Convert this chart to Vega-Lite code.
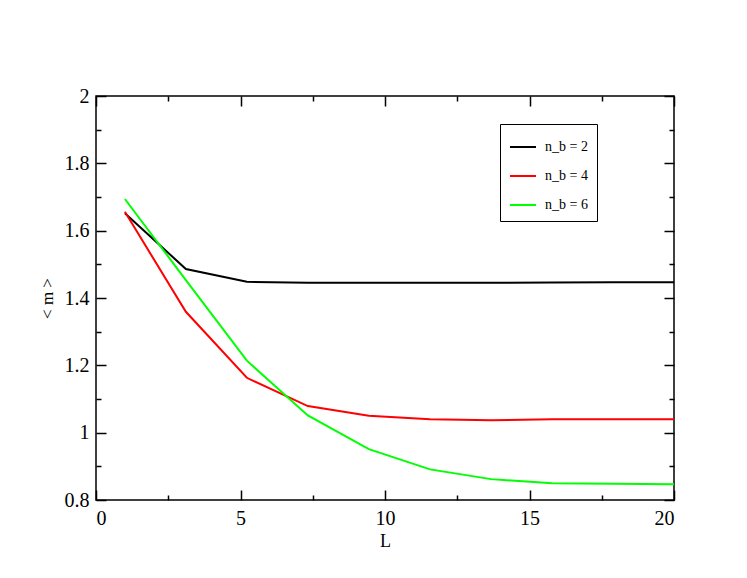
{
  "$schema": "https://vega.github.io/schema/vega-lite/v6.json",
  "width": 578,
  "height": 404,
  "autosize": {"type": "none"},
  "padding": {"left": 96, "top": 96, "right": 73, "bottom": 78},
  "background": "white",
  "config": {
    "view": {"stroke": "black", "strokeWidth": 1.5},
    "axis": {"grid": false, "domain": false, "tickColor": "black", "tickWidth": 1.5, "labelFont": "Liberation Serif", "labelFontSize": 20, "labelColor": "black", "titleFont": "Liberation Serif", "titleColor": "black", "titleFontWeight": "normal"},
    "legend": {"labelFont": "Liberation Serif", "labelFontSize": 14, "labelColor": "black"}
  },
  "data": {
    "values": [
      {"series": "n_b = 2", "x": 1, "y": 1.652},
      {"series": "n_b = 2", "x": 3.11, "y": 1.486},
      {"series": "n_b = 2", "x": 5.22, "y": 1.448},
      {"series": "n_b = 2", "x": 7.33, "y": 1.445},
      {"series": "n_b = 2", "x": 9.44, "y": 1.445},
      {"series": "n_b = 2", "x": 11.56, "y": 1.445},
      {"series": "n_b = 2", "x": 13.67, "y": 1.445},
      {"series": "n_b = 2", "x": 15.78, "y": 1.446},
      {"series": "n_b = 2", "x": 17.89, "y": 1.447},
      {"series": "n_b = 2", "x": 20, "y": 1.447},
      {"series": "n_b = 4", "x": 1, "y": 1.656},
      {"series": "n_b = 4", "x": 3.11, "y": 1.359},
      {"series": "n_b = 4", "x": 5.22, "y": 1.163},
      {"series": "n_b = 4", "x": 7.33, "y": 1.079},
      {"series": "n_b = 4", "x": 9.44, "y": 1.05},
      {"series": "n_b = 4", "x": 11.56, "y": 1.04},
      {"series": "n_b = 4", "x": 13.67, "y": 1.037},
      {"series": "n_b = 4", "x": 15.78, "y": 1.04},
      {"series": "n_b = 4", "x": 17.89, "y": 1.04},
      {"series": "n_b = 4", "x": 20, "y": 1.04},
      {"series": "n_b = 6", "x": 1, "y": 1.694},
      {"series": "n_b = 6", "x": 3.11, "y": 1.453},
      {"series": "n_b = 6", "x": 5.22, "y": 1.214},
      {"series": "n_b = 6", "x": 7.33, "y": 1.051},
      {"series": "n_b = 6", "x": 9.44, "y": 0.951},
      {"series": "n_b = 6", "x": 11.56, "y": 0.891},
      {"series": "n_b = 6", "x": 13.67, "y": 0.862},
      {"series": "n_b = 6", "x": 15.78, "y": 0.85},
      {"series": "n_b = 6", "x": 17.89, "y": 0.848},
      {"series": "n_b = 6", "x": 20, "y": 0.847}
    ]
  },
  "layer": [
    {
      "mark": {"type": "line", "strokeWidth": 2},
      "encoding": {
        "x": {"field": "x", "type": "quantitative", "scale": {"domain": [0, 20], "nice": false, "zero": false},
          "axis": {"orient": "bottom", "title": "L", "titleFontSize": 18, "titlePadding": 4,
            "labelFont": "Liberation Serif", "labelFontSize": 20,
            "values": [0, 2.5, 5, 7.5, 10, 12.5, 15, 17.5, 20],
            "tickSize": {"condition": {"test": "datum.value % 5 === 0", "value": -10}, "value": -5},
            "labelPadding": 18,
            "labelExpr": "datum.value % 5 === 0 ? format(datum.value, 'd') : ''"}},
        "y": {"field": "y", "type": "quantitative", "scale": {"domain": [0.8, 2], "nice": false, "zero": false},
          "axis": {"orient": "left", "title": "< m >", "titleFontSize": 17, "titlePadding": 8,
            "labelFont": "Liberation Serif", "labelFontSize": 20,
            "values": [0.8, 0.9, 1, 1.1, 1.2, 1.3, 1.4, 1.5, 1.6, 1.7, 1.8, 1.9, 2],
            "tickSize": {"condition": {"test": "round(datum.value * 10) % 2 === 0", "value": -10}, "value": -5},
            "labelPadding": 17,
            "labelExpr": "round(datum.value * 10) % 2 === 0 ? format(datum.value, '.2~f') : ''"}},
        "color": {"field": "series", "type": "nominal",
          "scale": {"domain": ["n_b = 2", "n_b = 4", "n_b = 6"], "range": ["#000000", "#ff0000", "#00ff00"]},
          "legend": {"title": null, "orient": "none", "legendX": 404, "legendY": 28,
            "symbolType": "stroke", "symbolSize": 676, "symbolStrokeWidth": 2,
            "strokeColor": "black", "fillColor": "white", "padding": 9, "rowPadding": 8, "labelOffset": 8}}
      }
    },
    {
      "mark": {"type": "line", "strokeOpacity": 0},
      "encoding": {
        "x": {"field": "x", "type": "quantitative", "scale": {"domain": [0, 20], "nice": false, "zero": false},
          "axis": {"orient": "top", "title": null, "labels": false,
            "values": [0, 2.5, 5, 7.5, 10, 12.5, 15, 17.5, 20],
            "tickSize": {"condition": {"test": "datum.value % 5 === 0", "value": -10}, "value": -5}}},
        "y": {"field": "y", "type": "quantitative", "scale": {"domain": [0.8, 2], "nice": false, "zero": false},
          "axis": {"orient": "right", "title": null, "labels": false,
            "values": [0.8, 0.9, 1, 1.1, 1.2, 1.3, 1.4, 1.5, 1.6, 1.7, 1.8, 1.9, 2],
            "tickSize": {"condition": {"test": "round(datum.value * 10) % 2 === 0", "value": -10}, "value": -5}}},
        "detail": {"field": "series", "type": "nominal"}
      }
    }
  ],
  "resolve": {"axis": {"x": "independent", "y": "independent"}}
}
